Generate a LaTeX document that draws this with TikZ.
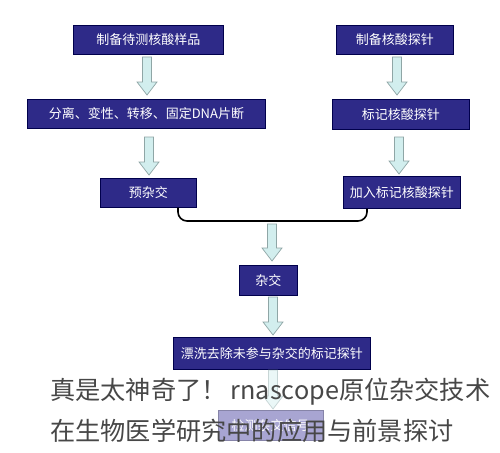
\documentclass[tikz,border=0pt]{standalone}
\usepackage{fontspec}
\newfontfamily\cjk{Noto Sans CJK SC}
\begin{document}
\begin{tikzpicture}[x=1pt,y=-1pt,
  box/.style={draw=black!70!blue, line width=0.8pt, fill=boxblue, text=white, font=\cjk\fontsize{13}{14}\selectfont, inner sep=0pt, anchor=north west},
  fadebox/.style={fill=fadeblue, draw=fadeblue!80!black, text=white, font=\cjk\fontsize{13}{14}\selectfont, inner sep=0pt, anchor=north west},
  bigarrow/.style={fill=arrowcyan, draw=arrowgray, line width=0.7pt, line join=miter},
  bracket/.style={draw=black, line width=1.6pt, rounded corners=9pt},
  wm/.style={text=black!72, font=\cjk\fontsize{25.2}{30}\selectfont, anchor=west, inner sep=0pt}]
\definecolor{boxblue}{HTML}{2E2A88}
\definecolor{fadeblue}{HTML}{A8A5D2}
\definecolor{arrowcyan}{HTML}{D2EEEE}
\definecolor{arrowgray}{HTML}{8FA6A6}
\useasboundingbox (0,0) rectangle (500,452);
\fill[white] (0,0) rectangle (500,452);
% arrow macro: x center, y top, y bottom
\newcommand\blockarr[4][]{%
  \draw[bigarrow,#1] (#2-4.5,#3) -- (#2+4.5,#3) -- (#2+4.5,#4-13) -- (#2+10,#4-13) -- (#2,#4) -- (#2-10,#4-13) -- (#2-4.5,#4-13) -- cycle;}
% left column
\node[box, minimum width=150, minimum height=29] (s1) at (73,25) {制备待测核酸样品};
\node[box, minimum width=238, minimum height=29] (s2) at (27,99) {分离、变性、转移、固定DNA片断};
\node[box, minimum width=96, minimum height=29] (s3) at (100,178) {预杂交};
% right column
\node[box, minimum width=117, minimum height=29] (p1) at (336,25) {制备核酸探针};
\node[box, minimum width=137, minimum height=30] (p2) at (332,99) {标记核酸探针};
\node[box, minimum width=117, minimum height=32] (p3) at (343,176) {加入标记核酸探针};
% center
\node[box, minimum width=58, minimum height=30] (h) at (239,265) {杂交};
\node[box, minimum width=197, minimum height=32] (w) at (173,337) {漂洗去除未参与杂交的标记探针};
% arrows
\blockarr{147}{57}{95}
\blockarr{149}{137}{175}
\blockarr{397}{57}{95}
\blockarr{399}{137}{174}
\blockarr{272}{224}{261}
\blockarr{273}{297}{335}
% bracket
\coordinate (bl) at (178,207.5);
\coordinate (br) at (367,208.5);
\draw[bracket] (bl) -- (178,221) -- (367,221) -- (br);
% faded bottom
\blockarr[opacity=0.45]{273}{370}{409}
\node[fadebox, minimum width=105, minimum height=30] (d) at (218,410) {检测杂交信号};
% watermark
\node[wm] (t1) at (50,392) {真是太神奇了！\,rnascope原位杂交技术};
\node[wm] (t2) at (50,431) {在生物医学研究中的应用与前景探讨};
\end{tikzpicture}
\end{document}
